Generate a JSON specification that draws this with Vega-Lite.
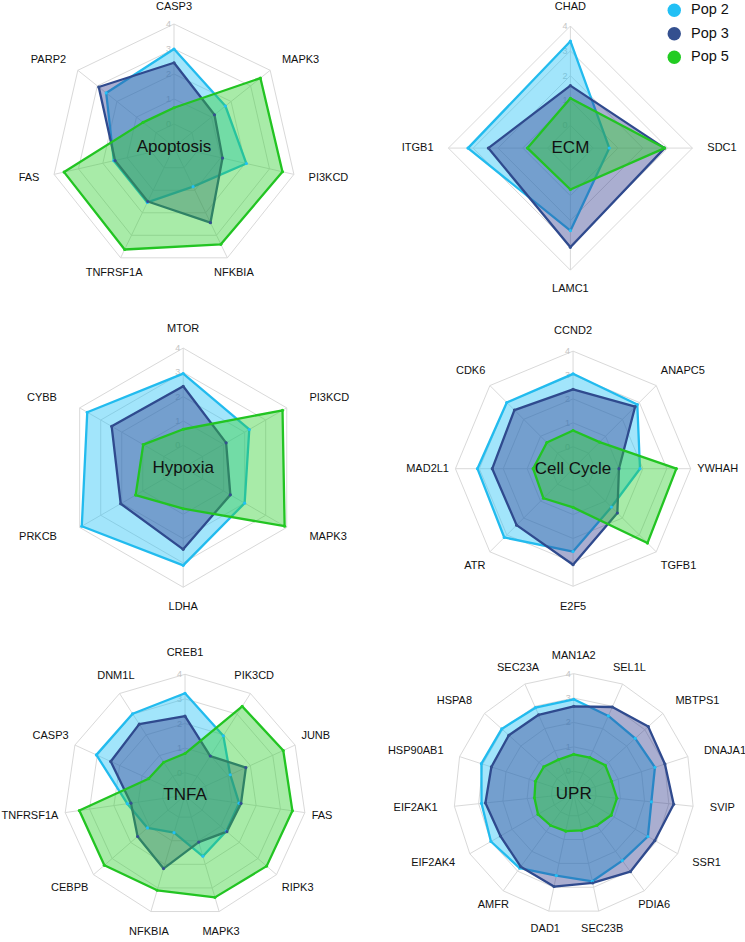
{
"$schema": "https://vega.github.io/schema/vega-lite/v6.json",
"padding": 0,
"background": "white",
"columns": 2,
"spacing": 0,
"bounds": "flush",
"config": {"view": {"stroke": null}},
"data": {"values": [
{"panel":"Apoptosis","gene":"CASP3","Pop 2":3.0,"Pop 3":2.45,"Pop 5":0.65},
{"panel":"Apoptosis","gene":"MAPK3","Pop 2":1.71,"Pop 3":1.15,"Pop 5":3.5},
{"panel":"Apoptosis","gene":"PI3KCD","Pop 2":2.05,"Pop 3":1.07,"Pop 5":3.53},
{"panel":"Apoptosis","gene":"NFKBIA","Pop 2":0.84,"Pop 3":2.44,"Pop 5":3.4},
{"panel":"Apoptosis","gene":"TNFRSF1A","Pop 2":1.54,"Pop 3":1.5,"Pop 5":3.63},
{"panel":"Apoptosis","gene":"FAS","Pop 2":1.55,"Pop 3":1.5,"Pop 5":3.59},
{"panel":"Apoptosis","gene":"PARP2","Pop 2":2.55,"Pop 3":2.93,"Pop 5":0.66},
{"panel":"ECM","gene":"CHAD","Pop 2":3.39,"Pop 3":1.6,"Pop 5":1.09},
{"panel":"ECM","gene":"SDC1","Pop 2":0.65,"Pop 3":2.88,"Pop 5":2.88},
{"panel":"ECM","gene":"LAMC1","Pop 2":2.41,"Pop 3":3.08,"Pop 5":0.75},
{"panel":"ECM","gene":"ITGB1","Pop 2":3.21,"Pop 3":2.39,"Pop 5":0.81},
{"panel":"Hypoxia","gene":"MTOR","Pop 2":2.95,"Pop 3":2.43,"Pop 5":0.66},
{"panel":"Hypoxia","gene":"PI3KCD","Pop 2":2.22,"Pop 3":1.12,"Pop 5":3.8},
{"panel":"Hypoxia","gene":"MAPK3","Pop 2":2.0,"Pop 3":1.32,"Pop 5":3.9},
{"panel":"Hypoxia","gene":"LDHA","Pop 2":3.1,"Pop 3":2.44,"Pop 5":0.77},
{"panel":"Hypoxia","gene":"PRKCB","Pop 2":3.9,"Pop 3":2.05,"Pop 5":1.34},
{"panel":"Hypoxia","gene":"CYBB","Pop 2":3.64,"Pop 3":2.48,"Pop 5":0.98},
{"panel":"Cell Cycle","gene":"CCND2","Pop 2":3.05,"Pop 3":2.4,"Pop 5":0.68},
{"panel":"Cell Cycle","gene":"ANAPC5","Pop 2":2.88,"Pop 3":2.75,"Pop 5":0.65},
{"panel":"Cell Cycle","gene":"YWHAH","Pop 2":1.88,"Pop 3":1.0,"Pop 5":3.4},
{"panel":"Cell Cycle","gene":"TGFB1","Pop 2":1.35,"Pop 3":1.7,"Pop 5":3.48},
{"panel":"Cell Cycle","gene":"E2F5","Pop 2":2.55,"Pop 3":3.1,"Pop 5":0.7},
{"panel":"Cell Cycle","gene":"ATR","Pop 2":3.15,"Pop 3":2.42,"Pop 5":0.83},
{"panel":"Cell Cycle","gene":"MAD2L1","Pop 2":3.08,"Pop 3":2.46,"Pop 5":0.75},
{"panel":"Cell Cycle","gene":"CDK6","Pop 2":3.0,"Pop 3":2.55,"Pop 5":0.63},
{"panel":"TNFA","gene":"CREB1","Pop 2":3.23,"Pop 3":2.3,"Pop 5":0.78},
{"panel":"TNFA","gene":"PIK3CD","Pop 2":1.96,"Pop 3":0.98,"Pop 5":3.38},
{"panel":"TNFA","gene":"JUNB","Pop 2":1.1,"Pop 3":1.8,"Pop 5":3.47},
{"panel":"TNFA","gene":"FAS","Pop 2":1.3,"Pop 3":1.38,"Pop 5":3.49},
{"panel":"TNFA","gene":"RIPK3","Pop 2":1.3,"Pop 3":1.33,"Pop 5":3.47},
{"panel":"TNFA","gene":"MAPK3","Pop 2":1.66,"Pop 3":1.06,"Pop 5":3.4},
{"panel":"TNFA","gene":"NFKBIA","Pop 2":0.66,"Pop 3":2.18,"Pop 5":3.1},
{"panel":"TNFA","gene":"CEBPB","Pop 2":1.1,"Pop 3":1.63,"Pop 5":3.42},
{"panel":"TNFA","gene":"TNFRSF1A","Pop 2":1.45,"Pop 3":1.3,"Pop 5":3.42},
{"panel":"TNFA","gene":"CASP3","Pop 2":3.04,"Pop 3":2.4,"Pop 5":0.71},
{"panel":"TNFA","gene":"DNM1L","Pop 2":3.02,"Pop 3":2.52,"Pop 5":0.68},
{"panel":"UPR","gene":"MAN1A2","Pop 2":2.95,"Pop 3":2.66,"Pop 5":0.69},
{"panel":"UPR","gene":"SEL1L","Pop 2":2.57,"Pop 3":2.97,"Pop 5":0.7},
{"panel":"UPR","gene":"MBTPS1","Pop 2":2.47,"Pop 3":3.19,"Pop 5":0.82},
{"panel":"UPR","gene":"DNAJA1","Pop 2":2.58,"Pop 3":3.01,"Pop 5":0.71},
{"panel":"UPR","gene":"SVIP","Pop 2":2.28,"Pop 3":3.2,"Pop 5":0.86},
{"panel":"UPR","gene":"SSR1","Pop 2":2.59,"Pop 3":2.92,"Pop 5":0.85},
{"panel":"UPR","gene":"PDIA6","Pop 2":2.47,"Pop 3":3.03,"Pop 5":0.69},
{"panel":"UPR","gene":"SEC23B","Pop 2":2.75,"Pop 3":2.82,"Pop 5":0.62},
{"panel":"UPR","gene":"DAD1","Pop 2":2.51,"Pop 3":2.97,"Pop 5":0.65},
{"panel":"UPR","gene":"AMFR","Pop 2":2.85,"Pop 3":2.78,"Pop 5":0.69},
{"panel":"UPR","gene":"EIF2AK4","Pop 2":3.0,"Pop 3":2.55,"Pop 5":0.77},
{"panel":"UPR","gene":"EIF2AK1","Pop 2":2.88,"Pop 3":2.72,"Pop 5":0.7},
{"panel":"UPR","gene":"HSP90AB1","Pop 2":3.06,"Pop 3":2.63,"Pop 5":0.73},
{"panel":"UPR","gene":"HSPA8","Pop 2":3.05,"Pop 3":2.66,"Pop 5":0.73},
{"panel":"UPR","gene":"SEC23A","Pop 2":2.94,"Pop 3":2.62,"Pop 5":0.61}
]},
"concat": [
{
"width": 372, "height": 314,
"transform": [
{"filter": "datum.panel === 'Apoptosis'"},
{"window": [{"op": "row_number", "as": "i"}]},
{"joinaggregate": [{"op": "count", "as": "n"}]},
{"calculate": "2*PI*(datum.i-1)/datum.n", "as": "t"},
{"calculate": "2*PI*datum.i/datum.n", "as": "t2"}
],
"encoding": {
"x": {"field": "X", "type": "quantitative", "scale": {"domain": [-6.96, 7.92], "nice": false, "zero": false}, "axis": null},
"y": {"field": "Y", "type": "quantitative", "scale": {"domain": [-6.76, 5.8], "nice": false, "zero": false}, "axis": null}
},
"layer": [
{"mark": {"type": "rule", "color": "#d9d9d9", "strokeWidth": 1},
"transform": [{"calculate": "0", "as": "X"}, {"calculate": "0", "as": "Y"}, {"calculate": "4.92*sin(datum.t)", "as": "X2"}, {"calculate": "4.92*cos(datum.t)", "as": "Y2"}],
"encoding": {"x2": {"field": "X2"}, "y2": {"field": "Y2"}}},
{"mark": {"type": "rule", "color": "#d9d9d9", "strokeWidth": 1},
"transform": [{"calculate": "[0,1,2,3,4]", "as": "lv"}, {"flatten": ["lv"]}, {"calculate": "(datum.lv+0.92)*sin(datum.t)", "as": "X"}, {"calculate": "(datum.lv+0.92)*cos(datum.t)", "as": "Y"}, {"calculate": "(datum.lv+0.92)*sin(datum.t2)", "as": "X2"}, {"calculate": "(datum.lv+0.92)*cos(datum.t2)", "as": "Y2"}],
"encoding": {"x2": {"field": "X2"}, "y2": {"field": "Y2"}}},
{"mark": {"type": "text", "align": "right", "baseline": "middle", "dx": -3, "fontSize": 9, "font": "Liberation Sans", "color": "#c4c4c4"},
"transform": [{"filter": "datum.i === 1"}, {"calculate": "[0,1,2,3,4]", "as": "lv"}, {"flatten": ["lv"]}, {"calculate": "0", "as": "X"}, {"calculate": "datum.lv+0.92", "as": "Y"}],
"encoding": {"text": {"field": "lv", "type": "quantitative"}}},
{"mark": {"type": "line", "interpolate": "linear-closed", "strokeWidth": 2.3, "fillOpacity": 0.42, "strokeJoin": "round"},
"transform": [{"fold": ["Pop 2", "Pop 3", "Pop 5"], "as": ["pop", "v"]}, {"calculate": "(datum.v+0.92)*sin(datum.t)", "as": "X"}, {"calculate": "(datum.v+0.92)*cos(datum.t)", "as": "Y"}],
"encoding": {"order": {"field": "i", "type": "quantitative"},
"stroke": {"field": "pop", "type": "nominal", "scale": {"domain": ["Pop 3", "Pop 5", "Pop 2"], "range": ["#2f4a8e", "#22c422", "#22bbee"]}, "legend": null},
"fill": {"field": "pop", "type": "nominal", "scale": {"domain": ["Pop 5", "Pop 3", "Pop 2"], "range": ["#2fd02f", "#353f8f", "#22c0f5"]}, "legend": null}}},
{"mark": {"type": "point", "filled": true, "size": 10, "opacity": 1},
"transform": [{"fold": ["Pop 2", "Pop 3", "Pop 5"], "as": ["pop", "v"]}, {"calculate": "(datum.v+0.92)*sin(datum.t)", "as": "X"}, {"calculate": "(datum.v+0.92)*cos(datum.t)", "as": "Y"}],
"encoding": {"color": {"field": "pop", "type": "nominal", "scale": {"domain": ["Pop 2", "Pop 3", "Pop 5"], "range": ["#22c0f5", "#34508f", "#22cc22"]},
"legend": {"title": null, "orient": "none", "legendX": 667, "legendY": 1, "padding": 0, "symbolType": "circle", "symbolSize": 180, "symbolStrokeWidth": 0, "symbolOpacity": 1, "labelFontSize": 14.5, "labelFont": "Liberation Sans", "labelColor": "#111111", "labelOffset": 9.5, "rowPadding": 8.5}}}},
{"mark": {"type": "text", "fontSize": 11, "font": "Liberation Sans", "color": "#111111", "baseline": "middle", "align": {"expr": "sin(datum.t) > 0.7 ? 'left' : sin(datum.t) < -0.7 ? 'right' : 'center'"}},
"transform": [{"calculate": "5.52*sin(datum.t)", "as": "X"}, {"calculate": "5.6*cos(datum.t)", "as": "Y"}],
"encoding": {"text": {"field": "gene"}}},
{"mark": {"type": "text", "fontSize": 17, "font": "Liberation Sans", "color": "#111111", "baseline": "middle", "align": "center"},
"transform": [{"filter": "datum.i === 1"}, {"calculate": "0", "as": "X"}, {"calculate": "0", "as": "Y"}],
"encoding": {"text": {"field": "panel"}}}
]
},
{
"width": 372, "height": 314,
"transform": [
{"filter": "datum.panel === 'ECM'"},
{"window": [{"op": "row_number", "as": "i"}]},
{"joinaggregate": [{"op": "count", "as": "n"}]},
{"calculate": "2*PI*(datum.i-1)/datum.n", "as": "t"},
{"calculate": "2*PI*datum.i/datum.n", "as": "t2"}
],
"encoding": {
"x": {"field": "X", "type": "quantitative", "scale": {"domain": [-8.0, 7.0], "nice": false, "zero": false}, "axis": null},
"y": {"field": "Y", "type": "quantitative", "scale": {"domain": [-6.77, 5.89], "nice": false, "zero": false}, "axis": null}
},
"layer": [
{"mark": {"type": "rule", "color": "#d9d9d9", "strokeWidth": 1},
"transform": [{"calculate": "0", "as": "X"}, {"calculate": "0", "as": "Y"}, {"calculate": "4.92*sin(datum.t)", "as": "X2"}, {"calculate": "4.92*cos(datum.t)", "as": "Y2"}],
"encoding": {"x2": {"field": "X2"}, "y2": {"field": "Y2"}}},
{"mark": {"type": "rule", "color": "#d9d9d9", "strokeWidth": 1},
"transform": [{"calculate": "[0,1,2,3,4]", "as": "lv"}, {"flatten": ["lv"]}, {"calculate": "(datum.lv+0.92)*sin(datum.t)", "as": "X"}, {"calculate": "(datum.lv+0.92)*cos(datum.t)", "as": "Y"}, {"calculate": "(datum.lv+0.92)*sin(datum.t2)", "as": "X2"}, {"calculate": "(datum.lv+0.92)*cos(datum.t2)", "as": "Y2"}],
"encoding": {"x2": {"field": "X2"}, "y2": {"field": "Y2"}}},
{"mark": {"type": "text", "align": "right", "baseline": "middle", "dx": -3, "fontSize": 9, "font": "Liberation Sans", "color": "#c4c4c4"},
"transform": [{"filter": "datum.i === 1"}, {"calculate": "[0,1,2,3,4]", "as": "lv"}, {"flatten": ["lv"]}, {"calculate": "0", "as": "X"}, {"calculate": "datum.lv+0.92", "as": "Y"}],
"encoding": {"text": {"field": "lv", "type": "quantitative"}}},
{"mark": {"type": "line", "interpolate": "linear-closed", "strokeWidth": 2.3, "fillOpacity": 0.42, "strokeJoin": "round"},
"transform": [{"fold": ["Pop 2", "Pop 3", "Pop 5"], "as": ["pop", "v"]}, {"calculate": "(datum.v+0.92)*sin(datum.t)", "as": "X"}, {"calculate": "(datum.v+0.92)*cos(datum.t)", "as": "Y"}],
"encoding": {"order": {"field": "i", "type": "quantitative"},
"stroke": {"field": "pop", "type": "nominal", "scale": {"domain": ["Pop 3", "Pop 5", "Pop 2"], "range": ["#2f4a8e", "#22c422", "#22bbee"]}, "legend": null},
"fill": {"field": "pop", "type": "nominal", "scale": {"domain": ["Pop 5", "Pop 3", "Pop 2"], "range": ["#2fd02f", "#353f8f", "#22c0f5"]}, "legend": null}}},
{"mark": {"type": "point", "filled": true, "size": 10, "opacity": 1},
"transform": [{"fold": ["Pop 2", "Pop 3", "Pop 5"], "as": ["pop", "v"]}, {"calculate": "(datum.v+0.92)*sin(datum.t)", "as": "X"}, {"calculate": "(datum.v+0.92)*cos(datum.t)", "as": "Y"}],
"encoding": {"color": {"field": "pop", "type": "nominal", "scale": {"domain": ["Pop 2", "Pop 3", "Pop 5"], "range": ["#22c0f5", "#34508f", "#22cc22"]},
"legend": {"title": null, "orient": "none", "legendX": 667, "legendY": 1, "padding": 0, "symbolType": "circle", "symbolSize": 180, "symbolStrokeWidth": 0, "symbolOpacity": 1, "labelFontSize": 14.5, "labelFont": "Liberation Sans", "labelColor": "#111111", "labelOffset": 9.5, "rowPadding": 8.5}}}},
{"mark": {"type": "text", "fontSize": 11, "font": "Liberation Sans", "color": "#111111", "baseline": "middle", "align": {"expr": "sin(datum.t) > 0.7 ? 'left' : sin(datum.t) < -0.7 ? 'right' : 'center'"}},
"transform": [{"calculate": "5.52*sin(datum.t)", "as": "X"}, {"calculate": "5.69*cos(datum.t)", "as": "Y"}],
"encoding": {"text": {"field": "gene"}}},
{"mark": {"type": "text", "fontSize": 17, "font": "Liberation Sans", "color": "#111111", "baseline": "middle", "align": "center"},
"transform": [{"filter": "datum.i === 1"}, {"calculate": "0", "as": "X"}, {"calculate": "0", "as": "Y"}],
"encoding": {"text": {"field": "panel"}}}
]
},
{
"width": 372, "height": 314,
"transform": [
{"filter": "datum.panel === 'Hypoxia'"},
{"window": [{"op": "row_number", "as": "i"}]},
{"joinaggregate": [{"op": "count", "as": "n"}]},
{"calculate": "2*PI*(datum.i-1)/datum.n", "as": "t"},
{"calculate": "2*PI*datum.i/datum.n", "as": "t2"}
],
"encoding": {
"x": {"field": "X", "type": "quantitative", "scale": {"domain": [-7.54, 7.77], "nice": false, "zero": false}, "axis": null},
"y": {"field": "Y", "type": "quantitative", "scale": {"domain": [-6.68, 6.24], "nice": false, "zero": false}, "axis": null}
},
"layer": [
{"mark": {"type": "rule", "color": "#d9d9d9", "strokeWidth": 1},
"transform": [{"calculate": "0", "as": "X"}, {"calculate": "0", "as": "Y"}, {"calculate": "4.92*sin(datum.t)", "as": "X2"}, {"calculate": "4.92*cos(datum.t)", "as": "Y2"}],
"encoding": {"x2": {"field": "X2"}, "y2": {"field": "Y2"}}},
{"mark": {"type": "rule", "color": "#d9d9d9", "strokeWidth": 1},
"transform": [{"calculate": "[0,1,2,3,4]", "as": "lv"}, {"flatten": ["lv"]}, {"calculate": "(datum.lv+0.92)*sin(datum.t)", "as": "X"}, {"calculate": "(datum.lv+0.92)*cos(datum.t)", "as": "Y"}, {"calculate": "(datum.lv+0.92)*sin(datum.t2)", "as": "X2"}, {"calculate": "(datum.lv+0.92)*cos(datum.t2)", "as": "Y2"}],
"encoding": {"x2": {"field": "X2"}, "y2": {"field": "Y2"}}},
{"mark": {"type": "text", "align": "right", "baseline": "middle", "dx": -3, "fontSize": 9, "font": "Liberation Sans", "color": "#c4c4c4"},
"transform": [{"filter": "datum.i === 1"}, {"calculate": "[0,1,2,3,4]", "as": "lv"}, {"flatten": ["lv"]}, {"calculate": "0", "as": "X"}, {"calculate": "datum.lv+0.92", "as": "Y"}],
"encoding": {"text": {"field": "lv", "type": "quantitative"}}},
{"mark": {"type": "line", "interpolate": "linear-closed", "strokeWidth": 2.3, "fillOpacity": 0.42, "strokeJoin": "round"},
"transform": [{"fold": ["Pop 2", "Pop 3", "Pop 5"], "as": ["pop", "v"]}, {"calculate": "(datum.v+0.92)*sin(datum.t)", "as": "X"}, {"calculate": "(datum.v+0.92)*cos(datum.t)", "as": "Y"}],
"encoding": {"order": {"field": "i", "type": "quantitative"},
"stroke": {"field": "pop", "type": "nominal", "scale": {"domain": ["Pop 3", "Pop 5", "Pop 2"], "range": ["#2f4a8e", "#22c422", "#22bbee"]}, "legend": null},
"fill": {"field": "pop", "type": "nominal", "scale": {"domain": ["Pop 5", "Pop 3", "Pop 2"], "range": ["#2fd02f", "#353f8f", "#22c0f5"]}, "legend": null}}},
{"mark": {"type": "point", "filled": true, "size": 10, "opacity": 1},
"transform": [{"fold": ["Pop 2", "Pop 3", "Pop 5"], "as": ["pop", "v"]}, {"calculate": "(datum.v+0.92)*sin(datum.t)", "as": "X"}, {"calculate": "(datum.v+0.92)*cos(datum.t)", "as": "Y"}],
"encoding": {"color": {"field": "pop", "type": "nominal", "scale": {"domain": ["Pop 2", "Pop 3", "Pop 5"], "range": ["#22c0f5", "#34508f", "#22cc22"]},
"legend": {"title": null, "orient": "none", "legendX": 667, "legendY": 1, "padding": 0, "symbolType": "circle", "symbolSize": 180, "symbolStrokeWidth": 0, "symbolOpacity": 1, "labelFontSize": 14.5, "labelFont": "Liberation Sans", "labelColor": "#111111", "labelOffset": 9.5, "rowPadding": 8.5}}}},
{"mark": {"type": "text", "fontSize": 11, "font": "Liberation Sans", "color": "#111111", "baseline": "middle", "align": {"expr": "sin(datum.t) > 0.7 ? 'left' : sin(datum.t) < -0.7 ? 'right' : 'center'"}},
"transform": [{"calculate": "6.0*sin(datum.t)", "as": "X"}, {"calculate": "5.72*cos(datum.t)", "as": "Y"}],
"encoding": {"text": {"field": "gene"}}},
{"mark": {"type": "text", "fontSize": 17, "font": "Liberation Sans", "color": "#111111", "baseline": "middle", "align": "center"},
"transform": [{"filter": "datum.i === 1"}, {"calculate": "0", "as": "X"}, {"calculate": "0", "as": "Y"}],
"encoding": {"text": {"field": "panel"}}}
]
},
{
"width": 372, "height": 314,
"transform": [
{"filter": "datum.panel === 'Cell Cycle'"},
{"window": [{"op": "row_number", "as": "i"}]},
{"joinaggregate": [{"op": "count", "as": "n"}]},
{"calculate": "2*PI*(datum.i-1)/datum.n", "as": "t"},
{"calculate": "2*PI*datum.i/datum.n", "as": "t2"}
],
"encoding": {
"x": {"field": "X", "type": "quantitative", "scale": {"domain": [-8.41, 7.15], "nice": false, "zero": false}, "axis": null},
"y": {"field": "Y", "type": "quantitative", "scale": {"domain": [-6.75, 6.39], "nice": false, "zero": false}, "axis": null}
},
"layer": [
{"mark": {"type": "rule", "color": "#d9d9d9", "strokeWidth": 1},
"transform": [{"calculate": "0", "as": "X"}, {"calculate": "0", "as": "Y"}, {"calculate": "4.92*sin(datum.t)", "as": "X2"}, {"calculate": "4.92*cos(datum.t)", "as": "Y2"}],
"encoding": {"x2": {"field": "X2"}, "y2": {"field": "Y2"}}},
{"mark": {"type": "rule", "color": "#d9d9d9", "strokeWidth": 1},
"transform": [{"calculate": "[0,1,2,3,4]", "as": "lv"}, {"flatten": ["lv"]}, {"calculate": "(datum.lv+0.92)*sin(datum.t)", "as": "X"}, {"calculate": "(datum.lv+0.92)*cos(datum.t)", "as": "Y"}, {"calculate": "(datum.lv+0.92)*sin(datum.t2)", "as": "X2"}, {"calculate": "(datum.lv+0.92)*cos(datum.t2)", "as": "Y2"}],
"encoding": {"x2": {"field": "X2"}, "y2": {"field": "Y2"}}},
{"mark": {"type": "text", "align": "right", "baseline": "middle", "dx": -3, "fontSize": 9, "font": "Liberation Sans", "color": "#c4c4c4"},
"transform": [{"filter": "datum.i === 1"}, {"calculate": "[0,1,2,3,4]", "as": "lv"}, {"flatten": ["lv"]}, {"calculate": "0", "as": "X"}, {"calculate": "datum.lv+0.92", "as": "Y"}],
"encoding": {"text": {"field": "lv", "type": "quantitative"}}},
{"mark": {"type": "line", "interpolate": "linear-closed", "strokeWidth": 2.3, "fillOpacity": 0.42, "strokeJoin": "round"},
"transform": [{"fold": ["Pop 2", "Pop 3", "Pop 5"], "as": ["pop", "v"]}, {"calculate": "(datum.v+0.92)*sin(datum.t)", "as": "X"}, {"calculate": "(datum.v+0.92)*cos(datum.t)", "as": "Y"}],
"encoding": {"order": {"field": "i", "type": "quantitative"},
"stroke": {"field": "pop", "type": "nominal", "scale": {"domain": ["Pop 3", "Pop 5", "Pop 2"], "range": ["#2f4a8e", "#22c422", "#22bbee"]}, "legend": null},
"fill": {"field": "pop", "type": "nominal", "scale": {"domain": ["Pop 5", "Pop 3", "Pop 2"], "range": ["#2fd02f", "#353f8f", "#22c0f5"]}, "legend": null}}},
{"mark": {"type": "point", "filled": true, "size": 10, "opacity": 1},
"transform": [{"fold": ["Pop 2", "Pop 3", "Pop 5"], "as": ["pop", "v"]}, {"calculate": "(datum.v+0.92)*sin(datum.t)", "as": "X"}, {"calculate": "(datum.v+0.92)*cos(datum.t)", "as": "Y"}],
"encoding": {"color": {"field": "pop", "type": "nominal", "scale": {"domain": ["Pop 2", "Pop 3", "Pop 5"], "range": ["#22c0f5", "#34508f", "#22cc22"]},
"legend": {"title": null, "orient": "none", "legendX": 667, "legendY": 1, "padding": 0, "symbolType": "circle", "symbolSize": 180, "symbolStrokeWidth": 0, "symbolOpacity": 1, "labelFontSize": 14.5, "labelFont": "Liberation Sans", "labelColor": "#111111", "labelOffset": 9.5, "rowPadding": 8.5}}}},
{"mark": {"type": "text", "fontSize": 11, "font": "Liberation Sans", "color": "#111111", "baseline": "middle", "align": {"expr": "sin(datum.t) > 0.7 ? 'left' : sin(datum.t) < -0.7 ? 'right' : 'center'"}},
"transform": [{"calculate": "5.19*sin(datum.t)", "as": "X"}, {"calculate": "5.77*cos(datum.t)", "as": "Y"}],
"encoding": {"text": {"field": "gene"}}},
{"mark": {"type": "text", "fontSize": 17, "font": "Liberation Sans", "color": "#111111", "baseline": "middle", "align": "center"},
"transform": [{"filter": "datum.i === 1"}, {"calculate": "0", "as": "X"}, {"calculate": "0", "as": "Y"}],
"encoding": {"text": {"field": "panel"}}}
]
},
{
"width": 372, "height": 314,
"transform": [
{"filter": "datum.panel === 'TNFA'"},
{"window": [{"op": "row_number", "as": "i"}]},
{"joinaggregate": [{"op": "count", "as": "n"}]},
{"calculate": "2*PI*(datum.i-1)/datum.n", "as": "t"},
{"calculate": "2*PI*datum.i/datum.n", "as": "t2"}
],
"encoding": {
"x": {"field": "X", "type": "quantitative", "scale": {"domain": [-7.52, 7.6], "nice": false, "zero": false}, "axis": null},
"y": {"field": "Y", "type": "quantitative", "scale": {"domain": [-6.04, 6.72], "nice": false, "zero": false}, "axis": null}
},
"layer": [
{"mark": {"type": "rule", "color": "#d9d9d9", "strokeWidth": 1},
"transform": [{"calculate": "0", "as": "X"}, {"calculate": "0", "as": "Y"}, {"calculate": "4.92*sin(datum.t)", "as": "X2"}, {"calculate": "4.92*cos(datum.t)", "as": "Y2"}],
"encoding": {"x2": {"field": "X2"}, "y2": {"field": "Y2"}}},
{"mark": {"type": "rule", "color": "#d9d9d9", "strokeWidth": 1},
"transform": [{"calculate": "[0,1,2,3,4]", "as": "lv"}, {"flatten": ["lv"]}, {"calculate": "(datum.lv+0.92)*sin(datum.t)", "as": "X"}, {"calculate": "(datum.lv+0.92)*cos(datum.t)", "as": "Y"}, {"calculate": "(datum.lv+0.92)*sin(datum.t2)", "as": "X2"}, {"calculate": "(datum.lv+0.92)*cos(datum.t2)", "as": "Y2"}],
"encoding": {"x2": {"field": "X2"}, "y2": {"field": "Y2"}}},
{"mark": {"type": "text", "align": "right", "baseline": "middle", "dx": -3, "fontSize": 9, "font": "Liberation Sans", "color": "#c4c4c4"},
"transform": [{"filter": "datum.i === 1"}, {"calculate": "[0,1,2,3,4]", "as": "lv"}, {"flatten": ["lv"]}, {"calculate": "0", "as": "X"}, {"calculate": "datum.lv+0.92", "as": "Y"}],
"encoding": {"text": {"field": "lv", "type": "quantitative"}}},
{"mark": {"type": "line", "interpolate": "linear-closed", "strokeWidth": 2.3, "fillOpacity": 0.42, "strokeJoin": "round"},
"transform": [{"fold": ["Pop 2", "Pop 3", "Pop 5"], "as": ["pop", "v"]}, {"calculate": "(datum.v+0.92)*sin(datum.t)", "as": "X"}, {"calculate": "(datum.v+0.92)*cos(datum.t)", "as": "Y"}],
"encoding": {"order": {"field": "i", "type": "quantitative"},
"stroke": {"field": "pop", "type": "nominal", "scale": {"domain": ["Pop 3", "Pop 5", "Pop 2"], "range": ["#2f4a8e", "#22c422", "#22bbee"]}, "legend": null},
"fill": {"field": "pop", "type": "nominal", "scale": {"domain": ["Pop 5", "Pop 3", "Pop 2"], "range": ["#2fd02f", "#353f8f", "#22c0f5"]}, "legend": null}}},
{"mark": {"type": "point", "filled": true, "size": 10, "opacity": 1},
"transform": [{"fold": ["Pop 2", "Pop 3", "Pop 5"], "as": ["pop", "v"]}, {"calculate": "(datum.v+0.92)*sin(datum.t)", "as": "X"}, {"calculate": "(datum.v+0.92)*cos(datum.t)", "as": "Y"}],
"encoding": {"color": {"field": "pop", "type": "nominal", "scale": {"domain": ["Pop 2", "Pop 3", "Pop 5"], "range": ["#22c0f5", "#34508f", "#22cc22"]},
"legend": {"title": null, "orient": "none", "legendX": 667, "legendY": 1, "padding": 0, "symbolType": "circle", "symbolSize": 180, "symbolStrokeWidth": 0, "symbolOpacity": 1, "labelFontSize": 14.5, "labelFont": "Liberation Sans", "labelColor": "#111111", "labelOffset": 9.5, "rowPadding": 8.5}}}},
{"mark": {"type": "text", "fontSize": 11, "font": "Liberation Sans", "color": "#111111", "baseline": "middle", "align": {"expr": "sin(datum.t) > 0.7 ? 'left' : sin(datum.t) < -0.7 ? 'right' : 'center'"}},
"transform": [{"calculate": "5.2*sin(datum.t)", "as": "X"}, {"calculate": "5.77*cos(datum.t)", "as": "Y"}],
"encoding": {"text": {"field": "gene"}}},
{"mark": {"type": "text", "fontSize": 17, "font": "Liberation Sans", "color": "#111111", "baseline": "middle", "align": "center"},
"transform": [{"filter": "datum.i === 1"}, {"calculate": "0", "as": "X"}, {"calculate": "0", "as": "Y"}],
"encoding": {"text": {"field": "panel"}}}
]
},
{
"width": 372, "height": 314,
"transform": [
{"filter": "datum.panel === 'UPR'"},
{"window": [{"op": "row_number", "as": "i"}]},
{"joinaggregate": [{"op": "count", "as": "n"}]},
{"calculate": "2*PI*(datum.i-1)/datum.n", "as": "t"},
{"calculate": "2*PI*datum.i/datum.n", "as": "t2"}
],
"encoding": {
"x": {"field": "X", "type": "quantitative", "scale": {"domain": [-8.27, 6.98], "nice": false, "zero": false}, "axis": null},
"y": {"field": "Y", "type": "quantitative", "scale": {"domain": [-6.16, 6.71], "nice": false, "zero": false}, "axis": null}
},
"layer": [
{"mark": {"type": "rule", "color": "#d9d9d9", "strokeWidth": 1},
"transform": [{"calculate": "0", "as": "X"}, {"calculate": "0", "as": "Y"}, {"calculate": "4.92*sin(datum.t)", "as": "X2"}, {"calculate": "4.92*cos(datum.t)", "as": "Y2"}],
"encoding": {"x2": {"field": "X2"}, "y2": {"field": "Y2"}}},
{"mark": {"type": "rule", "color": "#d9d9d9", "strokeWidth": 1},
"transform": [{"calculate": "[0,1,2,3,4]", "as": "lv"}, {"flatten": ["lv"]}, {"calculate": "(datum.lv+0.92)*sin(datum.t)", "as": "X"}, {"calculate": "(datum.lv+0.92)*cos(datum.t)", "as": "Y"}, {"calculate": "(datum.lv+0.92)*sin(datum.t2)", "as": "X2"}, {"calculate": "(datum.lv+0.92)*cos(datum.t2)", "as": "Y2"}],
"encoding": {"x2": {"field": "X2"}, "y2": {"field": "Y2"}}},
{"mark": {"type": "text", "align": "right", "baseline": "middle", "dx": -3, "fontSize": 9, "font": "Liberation Sans", "color": "#c4c4c4"},
"transform": [{"filter": "datum.i === 1"}, {"calculate": "[0,1,2,3,4]", "as": "lv"}, {"flatten": ["lv"]}, {"calculate": "0", "as": "X"}, {"calculate": "datum.lv+0.92", "as": "Y"}],
"encoding": {"text": {"field": "lv", "type": "quantitative"}}},
{"mark": {"type": "line", "interpolate": "linear-closed", "strokeWidth": 2.3, "fillOpacity": 0.42, "strokeJoin": "round"},
"transform": [{"fold": ["Pop 2", "Pop 3", "Pop 5"], "as": ["pop", "v"]}, {"calculate": "(datum.v+0.92)*sin(datum.t)", "as": "X"}, {"calculate": "(datum.v+0.92)*cos(datum.t)", "as": "Y"}],
"encoding": {"order": {"field": "i", "type": "quantitative"},
"stroke": {"field": "pop", "type": "nominal", "scale": {"domain": ["Pop 3", "Pop 5", "Pop 2"], "range": ["#2f4a8e", "#22c422", "#22bbee"]}, "legend": null},
"fill": {"field": "pop", "type": "nominal", "scale": {"domain": ["Pop 5", "Pop 3", "Pop 2"], "range": ["#2fd02f", "#353f8f", "#22c0f5"]}, "legend": null}}},
{"mark": {"type": "point", "filled": true, "size": 10, "opacity": 1},
"transform": [{"fold": ["Pop 2", "Pop 3", "Pop 5"], "as": ["pop", "v"]}, {"calculate": "(datum.v+0.92)*sin(datum.t)", "as": "X"}, {"calculate": "(datum.v+0.92)*cos(datum.t)", "as": "Y"}],
"encoding": {"color": {"field": "pop", "type": "nominal", "scale": {"domain": ["Pop 2", "Pop 3", "Pop 5"], "range": ["#22c0f5", "#34508f", "#22cc22"]},
"legend": {"title": null, "orient": "none", "legendX": 667, "legendY": 1, "padding": 0, "symbolType": "circle", "symbolSize": 180, "symbolStrokeWidth": 0, "symbolOpacity": 1, "labelFontSize": 14.5, "labelFont": "Liberation Sans", "labelColor": "#111111", "labelOffset": 9.5, "rowPadding": 8.5}}}},
{"mark": {"type": "text", "fontSize": 11, "font": "Liberation Sans", "color": "#111111", "baseline": "middle", "align": {"expr": "sin(datum.t) > 0.7 ? 'left' : sin(datum.t) < -0.7 ? 'right' : 'center'"}},
"transform": [{"calculate": "5.61*sin(datum.t)", "as": "X"}, {"calculate": "5.66*cos(datum.t)", "as": "Y"}],
"encoding": {"text": {"field": "gene"}}},
{"mark": {"type": "text", "fontSize": 17, "font": "Liberation Sans", "color": "#111111", "baseline": "middle", "align": "center"},
"transform": [{"filter": "datum.i === 1"}, {"calculate": "0", "as": "X"}, {"calculate": "0", "as": "Y"}],
"encoding": {"text": {"field": "panel"}}}
]
}
]
}
